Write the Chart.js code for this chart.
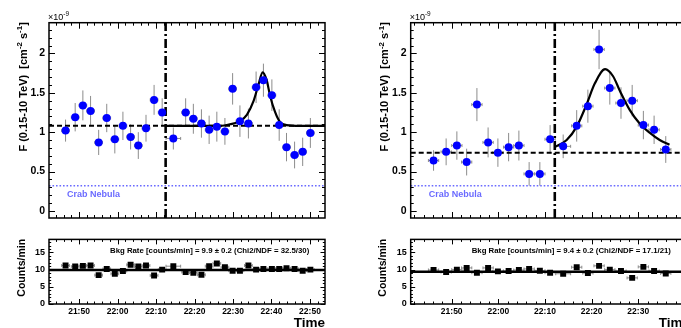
<!DOCTYPE html>
<html>
<head>
<meta charset="utf-8">
<script src="https://cdn.jsdelivr.net/npm/chart.js@4.4.1/dist/chart.umd.min.js"></script>
<style>
  html, body { margin: 0; padding: 0; background: #fff; overflow: hidden; width: 681px; height: 328px; position: relative; }
  canvas { position: absolute; }
</style>
</head>
<body>
<canvas id="fluxA" width="340" height="230" style="left:0;top:0"></canvas>
<canvas id="rateA" width="340" height="98" style="left:0;top:230px"></canvas>
<canvas id="fluxB" width="360" height="230" style="left:340px;top:0"></canvas>
<canvas id="rateB" width="360" height="98" style="left:340px;top:230px"></canvas>
<script>
// Times are minutes after 21:00 (UTC); fluxes in units of 1e-9 cm^-2 s^-1.

// ---- Night A ----
const timeA = [46.5, 49.0, 51.0, 53.0, 55.1, 57.2, 59.3, 61.4, 63.4, 65.4, 67.4, 69.5, 71.6,
               74.5, 77.7, 79.7, 81.8, 83.8, 85.8, 87.9, 89.9, 91.8, 94.0, 96.0, 97.9, 100.1,
               102.0, 103.9, 106.0, 108.1, 110.1];
const timeErrA = [1, 1, 1, 1, 1, 1, 1, 1, 1, 1, 1, 1, 1,
                  1.9, 1, 1, 1, 1, 1, 1, 1, 1, 1, 1, 1, 1, 1, 1, 1, 1, 1];
const fluxA = [1.02, 1.19, 1.34, 1.27, 0.87, 1.18, 0.91, 1.08, 0.94, 0.83, 1.05, 1.41, 1.25,
               0.92, 1.25, 1.17, 1.11, 1.03, 1.07, 1.01, 1.55, 1.14, 1.11, 1.57, 1.66, 1.47,
               1.09, 0.81, 0.71, 0.75, 0.99];
const fluxErrA = [0.14, 0.18, 0.19, 0.19, 0.16, 0.18, 0.18, 0.18, 0.16, 0.17, 0.17, 0.19, 0.18,
                  0.14, 0.18, 0.19, 0.18, 0.18, 0.19, 0.17, 0.20, 0.20, 0.19, 0.20, 0.21, 0.20,
                  0.20, 0.18, 0.17, 0.18, 0.19];
const rateA = [11.2, 10.9, 11.1, 11.2, 8.4, 10.2, 8.8, 9.6, 11.4, 10.9, 11.2, 8.3, 10.0,
               11.0, 9.3, 9.1, 8.5, 11.0, 11.8, 10.7, 9.7, 9.7, 11.2, 10.0, 10.2, 10.2,
               10.2, 10.4, 10.2, 9.7, 10.0];
const rateErrA = [0.5, 0.5, 0.5, 0.5, 0.4, 0.5, 0.4, 0.5, 0.5, 0.5, 0.5, 0.4, 0.5,
                  0.4, 0.5, 0.5, 0.4, 0.5, 0.5, 0.5, 0.5, 0.5, 0.5, 0.5, 0.5, 0.5,
                  0.5, 0.5, 0.5, 0.5, 0.5];
// flare fit curve (time, flux)
const fitTimeA = [72.5, 86.6, 89.2, 91.8, 93.6, 95.3, 96.6, 97.7, 98.75, 99.6, 100.9, 102.2, 103.9, 107.4, 113.9];
const fitFluxA = [1.08, 1.08, 1.10, 1.14, 1.22, 1.39, 1.60, 1.76, 1.66, 1.47, 1.26, 1.13, 1.09, 1.08, 1.08];
const baselineA = 1.08;
const splitA = 72.5;
const bkgA = 9.9;
const bkgNoteA = 'Bkg Rate [counts/min] = 9.9 \u00b1 0.2 (Chi2/NDF = 32.5/30)';
const rangeA = [42.2, 113.9];
const hourTicksA = [50, 60, 70, 80, 90, 100, 110];

// ---- Night B ----
const timeB = [46.1, 48.8, 51.1, 53.2, 55.4, 57.8, 59.9, 62.2, 64.4, 66.6, 68.9, 71.1,
               73.9, 76.8, 79.2, 81.6, 83.9, 86.3, 88.7, 91.1, 93.4, 95.9];
const timeErrB = [1.1, 1.1, 1.1, 1.1, 1.1, 1.1, 1.1, 1.1, 1.1, 1.1, 1.1, 1.1,
                  1.6, 1.1, 1.1, 1.1, 1.1, 1.1, 1.1, 1.1, 1.1, 1.1];
const fluxB = [0.64, 0.75, 0.83, 0.62, 1.35, 0.87, 0.74, 0.81, 0.83, 0.47, 0.47, 0.91,
               0.82, 1.08, 1.33, 2.05, 1.56, 1.37, 1.40, 1.09, 1.03, 0.78];
const fluxErrB = [0.13, 0.17, 0.18, 0.17, 0.21, 0.19, 0.18, 0.18, 0.19, 0.15, 0.15, 0.18,
                  0.15, 0.20, 0.21, 0.25, 0.21, 0.20, 0.20, 0.18, 0.18, 0.17];
const rateB = [9.9, 9.3, 10.0, 10.5, 9.1, 10.5, 9.5, 9.6, 9.9, 10.2, 9.7, 9.1,
               8.8, 10.7, 9.0, 11.1, 10.0, 9.6, 7.6, 10.8, 9.6, 8.9];
const rateErrB = [0.5, 0.5, 0.5, 0.5, 0.5, 0.5, 0.5, 0.5, 0.5, 0.5, 0.5, 0.5,
                  0.4, 0.5, 0.5, 0.5, 0.5, 0.5, 0.4, 0.5, 0.5, 0.5];
const fitTimeB = [72.1, 74.65, 76.8, 78.9, 80.7, 82.9, 84.6, 86.1, 88.2, 90.3, 92.5, 94.6, 96.7];
const fitFluxB = [0.81, 0.90, 1.07, 1.35, 1.62, 1.80, 1.71, 1.52, 1.28, 1.11, 0.99, 0.90, 0.84];
const baselineB = 0.74;
const splitB = 72.1;
const bkgB = 9.4;
const bkgNoteB = 'Bkg Rate [counts/min] = 9.4 \u00b1 0.2 (Chi2/NDF = 17.1/21)';
const rangeB = [41.2, 101.1];
const hourTicksB = [50, 60, 70, 80, 90];

// ---- shared ----
const crabFlux = 0.32;
const fluxRange = [-0.09, 2.39];
const fluxTicks = [0, 0.5, 1, 1.5, 2];
const rateRange = [0, 18.8];
const rateTicks = [0, 5, 10, 15];

const FONT = '"Liberation Sans", Arial, Helvetica, sans-serif';
const BLUE = '#0000ff';
const CRAB_BLUE = '#6a6aff';
const ERR_GRAY = '#8c8c8c';

function hhmm(m) {
  const h = 21 + Math.floor(m / 60);
  const mm = Math.round(m % 60);
  return h + ':' + String(mm).padStart(2, '0');
}

// text made of plain and superscript pieces
function drawParts(ctx, parts, size, x, y, align) {
  const items = parts.map(p => {
    const s = p.sup ? size * 0.72 : size;
    ctx.font = (p.normal ? '' : 'bold ') + s + 'px ' + FONT;
    return { p, s, w: ctx.measureText(p.t).width };
  });
  const total = items.reduce((a, b) => a + b.w, 0);
  let cx = align === 'right' ? x - total : x;
  ctx.textAlign = 'left';
  ctx.textBaseline = 'alphabetic';
  for (const it of items) {
    ctx.font = (it.p.normal ? '' : 'bold ') + it.s + 'px ' + FONT;
    ctx.fillText(it.p.t, cx, it.p.sup ? y - size * 0.42 : y);
    cx += it.w;
  }
}

// gray error bars under the markers
const errorBars = {
  id: 'errorBars',
  beforeDatasetsDraw(chart, args, o) {
    if (!o || !o.xs) return;
    const { ctx, scales: { x, y } } = chart;
    ctx.save();
    ctx.strokeStyle = ERR_GRAY;
    ctx.lineWidth = 1;
    ctx.beginPath();
    o.xs.forEach((t, i) => {
      const v = o.ys[i];
      const px = x.getPixelForValue(t), py = y.getPixelForValue(v);
      const x0 = x.getPixelForValue(t - o.xErr[i]), x1 = x.getPixelForValue(t + o.xErr[i]);
      const y0 = y.getPixelForValue(v - o.yErr[i]), y1 = y.getPixelForValue(v + o.yErr[i]);
      ctx.moveTo(x0, py); ctx.lineTo(x1, py);
      ctx.moveTo(x0, py - 1.5); ctx.lineTo(x0, py + 1.5);
      ctx.moveTo(x1, py - 1.5); ctx.lineTo(x1, py + 1.5);
      ctx.moveTo(px, y0); ctx.lineTo(px, y1);
    });
    ctx.stroke();
    ctx.restore();
  }
};

// boxed frame with inward ticks on all four sides
const frameTicks = {
  id: 'frameTicks',
  afterDraw(chart, args, o) {
    const { ctx, chartArea: a, scales: { x, y } } = chart;
    ctx.save();
    ctx.strokeStyle = '#000';
    ctx.lineWidth = 1;
    ctx.beginPath();
    const k0 = Math.ceil(x.min / o.xMinor - 1e-9), k1 = Math.floor(x.max / o.xMinor + 1e-9);
    for (let k = k0; k <= k1; k++) {
      const v = k * o.xMinor;
      const r = v / o.xMajor;
      const L = Math.abs(r - Math.round(r)) < 1e-6 ? o.xLong : o.xShort;
      const px = Math.round(x.getPixelForValue(v)) + 0.5;
      ctx.moveTo(px, a.bottom); ctx.lineTo(px, a.bottom - L);
      ctx.moveTo(px, a.top); ctx.lineTo(px, a.top + L);
    }
    const j0 = Math.ceil(y.min / o.yMinor - 1e-9), j1 = Math.floor(y.max / o.yMinor + 1e-9);
    for (let j = j0; j <= j1; j++) {
      const v = j * o.yMinor;
      const r = v / o.yMajor;
      const L = Math.abs(r - Math.round(r)) < 1e-6 ? o.yLong : o.yShort;
      const py = Math.round(y.getPixelForValue(v)) + 0.5;
      ctx.moveTo(a.left, py); ctx.lineTo(a.left + L, py);
      ctx.moveTo(a.right, py); ctx.lineTo(a.right - L, py);
    }
    ctx.stroke();
    ctx.lineWidth = 1.5;
    ctx.strokeRect(a.left, a.top, a.right - a.left, a.bottom - a.top);
    ctx.restore();
  }
};

// axis titles and annotations
const labels = {
  id: 'labels',
  afterDraw(chart, args, o) {
    const { ctx, chartArea: a, scales: { y } } = chart;
    ctx.save();
    ctx.fillStyle = '#000';
    if (o.yTitle) {
      ctx.save();
      ctx.translate(a.left - o.yTitleGap, a.top - 0.5);
      ctx.rotate(-Math.PI / 2);
      drawParts(ctx, o.yTitle, o.yTitleSize, 0, 0, 'right');
      ctx.restore();
    }
    if (o.exponent) {
      drawParts(ctx, [{ t: '\u00d710', normal: true }, { t: '-9', sup: true, normal: true }], 9, a.left - 1, a.top - 3, 'left');
    }
    if (o.crabText) {
      ctx.fillStyle = CRAB_BLUE;
      ctx.font = 'bold 9px ' + FONT;
      ctx.textAlign = 'left';
      ctx.textBaseline = 'alphabetic';
      ctx.fillText(o.crabText, a.left + 18, y.getPixelForValue(crabFlux) + 11);
      ctx.fillStyle = '#000';
    }
    if (o.note) {
      ctx.font = 'bold 7.8px ' + FONT;
      ctx.textAlign = 'left';
      ctx.textBaseline = 'alphabetic';
      ctx.fillText(o.note, a.left + 61, a.top + 14);
    }
    if (o.xTitle) {
      ctx.font = 'bold 13.5px ' + FONT;
      ctx.textAlign = 'right';
      ctx.textBaseline = 'alphabetic';
      ctx.fillText(o.xTitle, a.right, a.bottom + 22.5);
    }
    ctx.restore();
  }
};

function areaScales(box, xr, yr, yTicks, xTicks, yFont, xFont) {
  return {
    x: {
      type: 'linear', min: xr[0], max: xr[1],
      grid: { display: false, drawTicks: false }, border: { display: false },
      afterBuildTicks: s => { s.ticks = xTicks.map(v => ({ value: v })); },
      ticks: { display: !!xFont, padding: 3, autoSkip: false, maxRotation: 0, color: '#000',
               font: xFont || { size: 8 }, callback: v => hhmm(v) },
      afterFit: s => { s.height = box.h - box.bottom; }
    },
    y: {
      type: 'linear', min: yr[0], max: yr[1],
      grid: { display: false, drawTicks: false }, border: { display: false },
      afterBuildTicks: s => { s.ticks = yTicks.map(v => ({ value: v })); },
      ticks: { padding: 4, color: '#000', font: yFont, callback: v => String(v) },
      afterFit: s => { s.width = box.left; }
    }
  };
}

function baseOptions(box) {
  return {
    responsive: false, animation: false, devicePixelRatio: 1,
    layout: { padding: { left: 0, top: box.top, right: box.w - box.right, bottom: 0 } },
    events: []
  };
}

const yTitleParts = [{ t: 'F (0.15-10 TeV)  [cm' }, { t: '-2', sup: true }, { t: ' s' }, { t: '-1', sup: true }, { t: ']' }];

function fluxChart(id, box, d) {
  const xr = d.range;
  const opts = baseOptions(box);
  opts.scales = areaScales(box, xr, fluxRange, fluxTicks, d.hourTicks, { family: FONT, weight: 'bold', size: 10.5 }, null);
  opts.plugins = {
    legend: { display: false }, tooltip: { enabled: false },
    errorBars: { xs: d.time, ys: d.flux, xErr: d.timeErr, yErr: d.fluxErr },
    frameTicks: { xMajor: 10, xMinor: 2, xLong: 6, xShort: 3, yMajor: 0.5, yMinor: 0.1, yLong: 6, yShort: 3 },
    labels: { yTitle: yTitleParts, yTitleGap: 22.3, yTitleSize: 11, exponent: true, crabText: 'Crab Nebula' }
  };
  return new Chart(document.getElementById(id), {
    type: 'scatter',
    data: {
      datasets: [
        { data: d.time.map((t, i) => ({ x: t, y: d.flux[i] })), pointRadius: 4, pointBackgroundColor: BLUE,
          pointBorderColor: BLUE, pointBorderWidth: 0, order: 0 },
        { data: d.fitTime.map((t, i) => ({ x: t, y: d.fitFlux[i] })), showLine: true, pointRadius: 0,
          borderColor: '#000', borderWidth: 2.2, cubicInterpolationMode: 'monotone', order: 1 },
        { data: [{ x: xr[0], y: d.baseline }, { x: xr[1], y: d.baseline }], showLine: true, pointRadius: 0,
          borderColor: '#000', borderWidth: 2, borderDash: [5, 3], order: 2 },
        { data: [{ x: d.split, y: fluxRange[0] }, { x: d.split, y: fluxRange[1] }], showLine: true, pointRadius: 0,
          borderColor: '#000', borderWidth: 2.6, borderDash: [9, 3, 2, 3], order: 2 },
        { data: [{ x: xr[0], y: crabFlux }, { x: xr[1], y: crabFlux }], showLine: true, pointRadius: 0,
          borderColor: CRAB_BLUE, borderWidth: 1.6, borderDash: [1.6, 1.9], order: 3 }
      ]
    },
    options: opts,
    plugins: [errorBars, frameTicks, labels]
  });
}

function rateChart(id, box, d) {
  const xr = d.range;
  const opts = baseOptions(box);
  opts.scales = areaScales(box, xr, rateRange, rateTicks, d.hourTicks,
    { family: FONT, weight: 'bold', size: 9 }, { family: FONT, weight: 'bold', size: 8.5 });
  opts.plugins = {
    legend: { display: false }, tooltip: { enabled: false },
    errorBars: { xs: d.time, ys: d.rate, xErr: d.timeErr, yErr: d.rateErr },
    frameTicks: { xMajor: 10, xMinor: 2, xLong: 5, xShort: 2.5, yMajor: 5, yMinor: 1, yLong: 4.5, yShort: 2.2 },
    labels: { yTitle: [{ t: 'Counts/min' }], yTitleGap: 24.5, yTitleSize: 10.5, note: d.note, xTitle: 'Time' }
  };
  return new Chart(document.getElementById(id), {
    type: 'scatter',
    data: {
      datasets: [
        { data: d.time.map((t, i) => ({ x: t, y: d.rate[i] })), pointStyle: 'rect', pointRadius: 4.2,
          pointBackgroundColor: '#000', pointBorderColor: '#000', pointBorderWidth: 0, order: 0 },
        { data: [{ x: xr[0], y: d.bkg }, { x: xr[1], y: d.bkg }], showLine: true, pointRadius: 0,
          borderColor: '#000', borderWidth: 2.6, order: 1 }
      ]
    },
    options: opts,
    plugins: [errorBars, frameTicks, labels]
  });
}

const nightA = { time: timeA, timeErr: timeErrA, flux: fluxA, fluxErr: fluxErrA, rate: rateA, rateErr: rateErrA,
  fitTime: fitTimeA, fitFlux: fitFluxA, baseline: baselineA, split: splitA, bkg: bkgA, note: bkgNoteA,
  range: rangeA, hourTicks: hourTicksA };
const nightB = { time: timeB, timeErr: timeErrB, flux: fluxB, fluxErr: fluxErrB, rate: rateB, rateErr: rateErrB,
  fitTime: fitTimeB, fitFlux: fitFluxB, baseline: baselineB, split: splitB, bkg: bkgB, note: bkgNoteB,
  range: rangeB, hourTicks: hourTicksB };

fluxChart('fluxA', { w: 340, h: 230, left: 49, right: 325, top: 22.7, bottom: 218 }, nightA);
rateChart('rateA', { w: 340, h: 98, left: 49, right: 325, top: 8.3, bottom: 74 }, nightA);
fluxChart('fluxB', { w: 360, h: 230, left: 70.7, right: 350, top: 22.7, bottom: 218 }, nightB);
rateChart('rateB', { w: 360, h: 98, left: 70.7, right: 350, top: 8.3, bottom: 74 }, nightB);
</script>
</body>
</html>
